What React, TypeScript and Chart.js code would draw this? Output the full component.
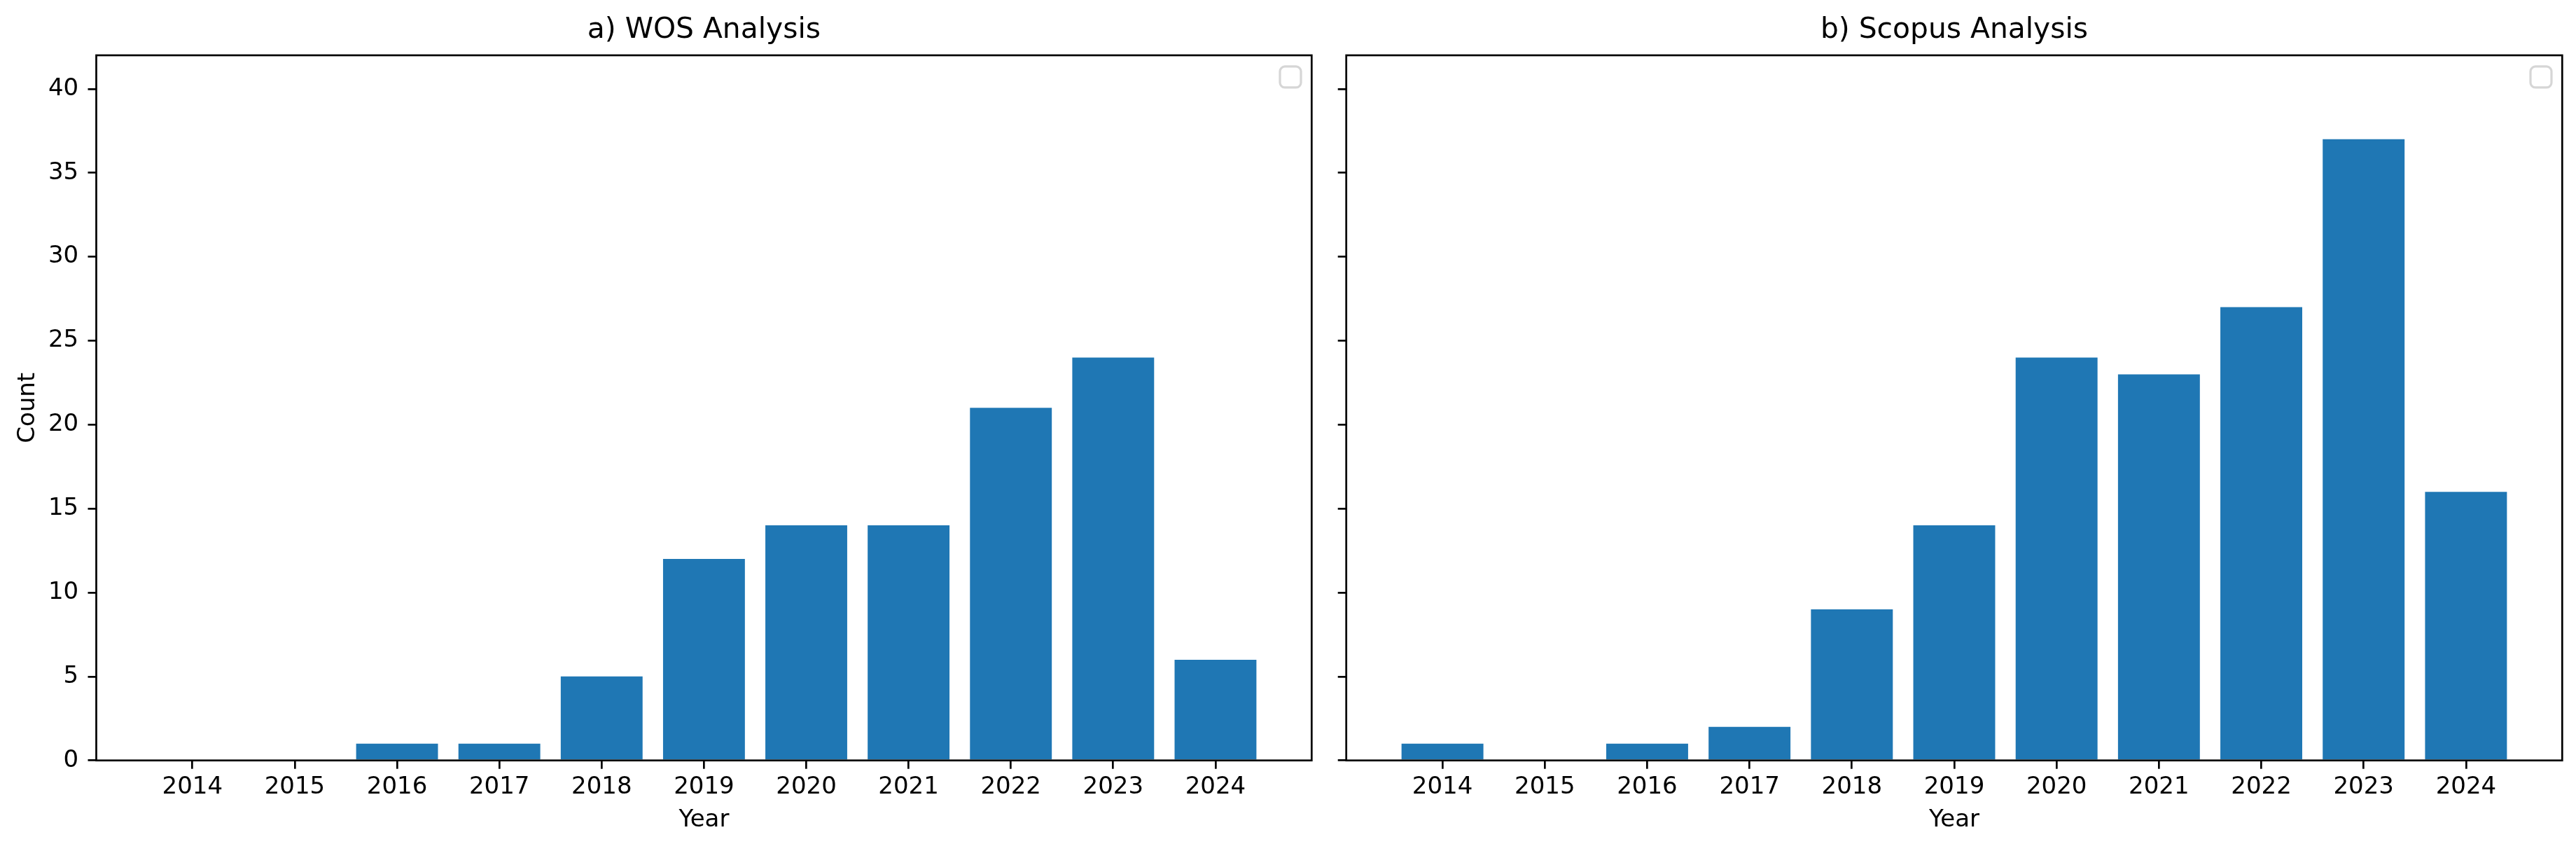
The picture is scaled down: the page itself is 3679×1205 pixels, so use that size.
import React, { useEffect, useRef } from "react";
import { Chart, registerables } from "chart.js";

Chart.register(...registerables);

const years = [2014, 2015, 2016, 2017, 2018, 2019, 2020, 2021, 2022, 2023, 2024];
const wosCounts = [0, 0, 1, 1, 5, 12, 14, 14, 21, 24, 6];
const scopusCounts = [1, 0, 1, 2, 9, 14, 24, 23, 27, 37, 16];
const yMax = 42;
const yStep = 5;
const titles = ["a) WOS Analysis", "b) Scopus Analysis"];

const FONT = "'DejaVu Sans', sans-serif";
const BAR_COLOR = "#1f77b4";
const LINE_W = 2.7;
const TICK_FONT = 34;

const framePlugin = {
  id: "frameAndLegend",
  afterDraw(chart: any) {
    const { ctx, chartArea } = chart;
    const { left, top, right, bottom } = chartArea;
    ctx.save();
    // empty legend frame (upper right)
    const size = 30;
    const lx = right - 15.3 - size;
    const ly = top + 16;
    ctx.beginPath();
    (ctx as any).roundRect(lx, ly, size, size, 7);
    ctx.fillStyle = "rgba(255,255,255,0.8)";
    ctx.fill();
    ctx.lineWidth = 3.2;
    ctx.strokeStyle = "#d6d6d6";
    ctx.stroke();
    // axes frame
    ctx.lineWidth = LINE_W;
    ctx.strokeStyle = "#000";
    ctx.strokeRect(left, top, right - left, bottom - top);
    ctx.restore();
  },
};

function makeConfig(title: string, counts: number[], first: boolean, padRight: number, yWidth: number) {
  const span = years[years.length - 1] - years[0] + 0.8;
  const xPad = 0.4 + 0.05 * span;
  return {
    type: "bar",
    data: {
      datasets: [
        {
          data: years.map((y, i) => ({ x: y, y: counts[i] })),
          backgroundColor: BAR_COLOR,
          borderWidth: 0,
          categoryPercentage: 1,
          barPercentage: 0.8,
        },
      ],
    },
    options: {
      responsive: false,
      animation: false,
      devicePixelRatio: 1,
      layout: { padding: { left: 0, right: padRight, top: 0, bottom: 0 } },
      plugins: {
        legend: { display: false },
        tooltip: { enabled: false },
        title: {
          display: true,
          text: title,
          fullSize: false,
          color: "#000",
          font: { family: FONT, size: 40.8, weight: "normal", lineHeight: 1.2 },
          padding: { top: 18.7, bottom: 11.3 },
        },
      },
      scales: {
        x: {
          type: "linear",
          position: "bottom",
          offset: false,
          min: years[0] - xPad,
          max: years[years.length - 1] + xPad,
          afterFit: (s: any) => {
            s.height = 1205 - 1085.7;
          },
          grid: {
            offset: false,
            drawOnChartArea: false,
            drawTicks: true,
            tickLength: 12,
            lineWidth: LINE_W,
            color: "#000",
          },
          border: { display: false },
          ticks: {
            stepSize: 1,
            includeBounds: false,
            autoSkip: false,
            maxRotation: 0,
            padding: 6,
            color: "#000",
            font: { family: FONT, size: TICK_FONT, lineHeight: 1.2 },
            callback: (v: any) => String(v),
          },
          title: {
            display: true,
            text: "Year",
            color: "#000",
            font: { family: FONT, size: TICK_FONT, lineHeight: 1.2 },
            padding: { top: 0, bottom: 13.4 },
          },
        },
        y: {
          type: "linear",
          position: "left",
          min: 0,
          max: yMax,
          afterFit: (s: any) => {
            s.width = yWidth;
          },
          grid: {
            drawOnChartArea: false,
            drawTicks: true,
            tickLength: 12,
            lineWidth: LINE_W,
            color: "#000",
          },
          border: { display: false },
          ticks: {
            display: first,
            stepSize: yStep,
            includeBounds: false,
            padding: 13.3,
            color: "#000",
            font: { family: FONT, size: TICK_FONT, lineHeight: 1.2 },
          },
          title: {
            display: first,
            text: "Count",
            color: "#000",
            font: { family: FONT, size: TICK_FONT, lineHeight: 1.2 },
            padding: { top: 19.5, bottom: 0 },
          },
        },
      },
    },
    plugins: [framePlugin],
  };
}

export default function App() {
  const ref1 = useRef<HTMLCanvasElement>(null);
  const ref2 = useRef<HTMLCanvasElement>(null);

  useEffect(() => {
    const c1 = new Chart(ref1.current as any, makeConfig(titles[0], wosCounts, true, 1898 - 1873.3, 137.5) as any);
    const c2 = new Chart(ref2.current as any, makeConfig(titles[1], scopusCounts, false, 3679 - 3659.3, 1922.7 - 1898) as any);
    return () => {
      c1.destroy();
      c2.destroy();
    };
  }, []);

  return (
    <div style={{ position: "fixed", left: 0, top: 0, width: 3679, height: 1205, background: "#fff" }}>
      <canvas ref={ref1} width={1898} height={1205} style={{ position: "absolute", left: 0, top: 0, width: 1898, height: 1205 }} />
      <canvas ref={ref2} width={1781} height={1205} style={{ position: "absolute", left: 1898, top: 0, width: 1781, height: 1205 }} />
    </div>
  );
}
